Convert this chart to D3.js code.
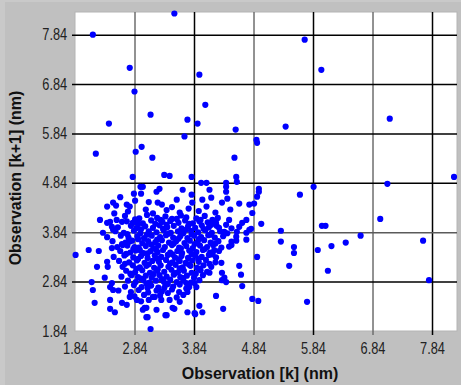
<!DOCTYPE html>
<html><head><meta charset="utf-8">
<script src="https://cdn.jsdelivr.net/npm/d3@7"></script>
<style>body{margin:0;background:#c0c0c0}svg{display:block}</style>
</head><body>
<svg id="c" width="461" height="385"></svg>
<script>
const tickValues = [1.84, 2.84, 3.84, 4.84, 5.84, 6.84, 7.84];
const xTitle = "Observation [k] (nm)";
const yTitle = "Observation [k+1] (nm)";

// sparse / outlying observations [x_k, x_k+1]
const outliers = [
[2.14,7.84],[3.51,8.27],[2.76,7.17],[2.84,6.69],[3.93,7.03],[4.03,6.42],[3.11,6.22],[3.73,6.12],[3.90,6.04],[2.41,6.04],
[3.68,5.78],[2.19,5.43],[2.86,5.47],[2.96,5.57],[3.14,5.35],[5.70,7.74],[5.98,7.13],[7.13,6.14],[4.54,5.92],[5.38,5.98],
[4.90,5.65],[4.89,5.71],[4.52,5.35],[8.21,4.96],[7.09,4.82],[5.85,4.76],[4.93,4.72],[4.93,4.66],[5.62,4.60],
[2.81,4.96],[3.34,5.00],[3.43,4.98],[3.80,4.96],[2.94,4.76],[3.26,4.72],[3.96,4.84],[4.05,4.84],[4.38,4.84],[4.55,4.96],
[4.56,4.86],[4.38,4.76],[4.38,4.66],[2.83,4.62],[2.98,4.76],[3.21,4.66],[3.80,4.60],[3.55,4.50],[3.98,4.50],[3.81,4.44],
[3.23,4.44],[3.30,4.40],[3.38,4.29],[4.13,4.54],[4.10,4.70],[4.90,4.56],[4.60,4.42],[4.77,4.40],[4.85,4.42],[4.31,4.44],
[4.82,4.23],[4.97,4.01],[4.72,4.09],[4.65,4.03],[4.60,3.95],[4.56,3.85],[4.77,3.89],[4.72,3.83],[4.43,4.09],[4.38,3.99],
[4.35,3.85],[4.21,4.03],[4.15,4.09],[4.26,3.93],[4.55,3.75],[4.47,3.65],[4.43,3.55],[4.72,3.69],[4.18,3.48],[4.55,3.67],
[4.47,3.58],[5.30,3.87],[5.99,3.97],[6.05,3.97],[6.97,4.11],[4.80,3.91],[6.64,3.77],[5.30,3.65],[6.39,3.63],[6.15,3.56],
[7.69,3.67],[5.52,3.54],[5.52,3.42],[5.92,3.48],[4.90,3.34],[4.60,3.16],[4.63,2.98],[5.44,3.16],[6.09,3.06],[4.65,2.75],
[7.79,2.87],[4.82,2.49],[4.92,2.45],[5.74,2.43],[4.30,3.22],[4.10,3.02],[4.31,3.02],[4.35,2.92],[4.38,2.83],[4.31,2.87],
[4.21,2.55],[4.33,2.29],[4.15,3.42],
[1.85,3.38],[2.07,3.48],[2.24,3.46],[2.26,4.09],[2.38,4.36],[2.48,4.44],[2.53,4.38],[2.71,4.40],[2.73,4.26],[2.76,4.36],
[2.43,4.05],[2.46,3.95],[2.48,3.89],[2.54,4.09],[2.63,4.05],[2.81,4.03],[2.89,4.05],[2.31,3.83],[2.46,3.52],[2.64,3.58],
[2.76,3.65],[2.84,3.54],[2.93,3.48],[2.38,3.24],[2.39,3.14],[2.21,3.14],[2.34,2.92],[2.12,2.83],[2.14,2.67],[2.43,2.73],
[2.48,2.67],[2.46,2.81],[2.17,2.41],[2.43,2.47],[2.43,2.29],[2.51,2.22],[2.63,2.41],[2.71,2.37],[2.76,2.53],[2.98,2.27],
[2.88,2.47],[3.01,2.31],[3.04,2.12],[3.11,1.88],[3.36,2.16],[3.48,2.31],[3.73,2.22],[3.85,2.20],[3.93,2.35],
[3.34,2.71],[3.40,2.61],[3.43,2.47],[3.18,2.53],[3.29,2.47],[3.06,2.71],[3.71,2.81],[3.73,2.63],[3.85,2.81],[3.88,2.73],
[3.04,2.31],[3.06,2.12],[3.21,2.27],[3.38,2.16],[3.51,2.29],[3.86,2.18],[3.98,2.22],[2.38,4.03],
[2.60,4.55],[2.85,4.48],[3.03,4.30],[3.15,4.22],[3.47,4.35],[3.60,4.24],[3.75,4.32],[3.92,4.27],[4.05,4.36],[4.20,4.24],
[4.45,4.30],[2.95,4.62],[3.65,4.70],[2.50,4.22],[4.40,4.52],[3.08,4.45]
];

// dense central cloud [x_k, x_k+1]
const cluster = [
[2.68,4.17],[2.92,4.12],[3.05,4.19],[3.22,4.13],[3.36,4.16],[3.47,4.11],[3.62,4.18],[3.71,4.14],[3.88,4.12],[4.02,4.17],[4.24,4.13],
[2.71,4.06],[2.98,4.02],[3.12,4.08],[3.19,4.01],[3.31,4.05],[3.44,4.07],[3.58,4.03],[3.69,4.08],[3.82,4.02],[3.93,4.06],[4.07,4.04],[4.18,4.07],
[2.56,3.94],[2.78,3.97],[2.87,3.92],[3.02,3.96],[3.15,3.93],[3.26,3.98],[3.39,3.94],[3.50,3.97],[3.63,3.92],[3.74,3.96],[3.86,3.93],[3.97,3.98],[4.09,3.94],[4.22,3.97],[4.47,3.92],
[2.52,3.86],[2.66,3.83],[2.83,3.87],[2.94,3.82],[3.08,3.86],[3.21,3.84],[3.33,3.88],[3.45,3.83],[3.57,3.86],[3.66,3.82],[3.79,3.87],[3.91,3.84],[4.03,3.88],[4.14,3.83],[4.28,3.86],[4.40,3.82],
[2.38,3.74],[2.61,3.77],[2.74,3.73],[2.89,3.76],[3.00,3.72],[3.13,3.77],[3.27,3.74],[3.37,3.78],[3.49,3.73],[3.61,3.76],[3.73,3.72],[3.84,3.77],[3.96,3.74],[4.08,3.78],[4.19,3.73],[4.33,3.76],
[2.47,3.66],[2.69,3.63],[2.80,3.67],[2.97,3.62],[3.07,3.66],[3.19,3.64],[3.30,3.68],[3.42,3.63],[3.54,3.66],[3.68,3.62],[3.77,3.67],[3.90,3.64],[4.01,3.68],[4.12,3.63],[4.25,3.66],
[2.55,3.54],[2.72,3.57],[2.91,3.53],[3.03,3.56],[3.16,3.52],[3.24,3.57],[3.35,3.54],[3.47,3.58],[3.59,3.53],[3.71,3.56],[3.82,3.52],[3.94,3.57],[4.06,3.54],[4.16,3.58],[4.30,3.53],
[2.60,3.46],[2.77,3.43],[2.86,3.47],[2.99,3.42],[3.11,3.46],[3.23,3.44],[3.32,3.48],[3.44,3.43],[3.56,3.46],[3.64,3.42],[3.76,3.47],[3.88,3.44],[3.99,3.48],[4.11,3.43],[4.26,3.46],
[2.49,3.34],[2.67,3.37],[2.82,3.33],[2.95,3.36],[3.06,3.32],[3.18,3.37],[3.29,3.34],[3.40,3.38],[3.52,3.33],[3.63,3.36],[3.74,3.32],[3.86,3.37],[3.97,3.34],[4.09,3.38],[4.21,3.33],
[2.58,3.26],[2.75,3.23],[2.88,3.27],[3.01,3.22],[3.14,3.26],[3.25,3.24],[3.37,3.28],[3.48,3.23],[3.60,3.26],[3.70,3.22],[3.81,3.27],[3.92,3.24],[4.04,3.28],[4.20,3.23],
[2.64,3.14],[2.81,3.17],[2.93,3.13],[3.04,3.16],[3.17,3.12],[3.28,3.17],[3.41,3.14],[3.53,3.18],[3.65,3.13],[3.78,3.16],[3.89,3.12],[4.00,3.17],[4.13,3.14],
[2.70,3.06],[2.85,3.03],[2.97,3.07],[3.10,3.02],[3.22,3.06],[3.34,3.04],[3.46,3.08],[3.57,3.03],[3.67,3.06],[3.80,3.02],[3.95,3.07],[4.06,3.04],
[2.62,2.94],[2.79,2.97],[2.90,2.93],[3.03,2.96],[3.13,2.92],[3.26,2.97],[3.38,2.94],[3.50,2.98],[3.61,2.93],[3.72,2.96],[3.84,2.92],[3.99,2.97],
[2.73,2.86],[2.86,2.83],[2.99,2.87],[3.09,2.82],[3.20,2.86],[3.33,2.84],[3.44,2.88],[3.55,2.83],[3.66,2.86],[3.79,2.82],[3.93,2.87],
[2.68,2.74],[2.83,2.77],[2.96,2.73],[3.12,2.76],[3.24,2.72],[3.36,2.77],[3.49,2.74],[3.60,2.78],[3.76,2.73],
[2.57,2.66],[2.78,2.63],[2.91,2.67],[3.07,2.62],[3.21,2.66],[3.30,2.64],[3.47,2.68],[3.59,2.63],
[2.84,2.54],[3.00,2.57],[3.15,2.53],[3.27,2.56],[3.55,2.52],[3.66,2.57],
[2.95,2.44],[3.08,2.47],[3.60,2.43]
];

// extra observations filling the gaps inside the cloud
const clusterFill = [
[2.85,4.10],[3.28,4.09],[3.55,4.11],[3.95,4.09],
[2.90,4.00],[3.38,3.99],[3.76,4.01],[4.13,3.99],
[2.95,3.90],[3.32,3.91],[3.70,3.89],[4.00,3.91],
[2.72,3.80],[3.05,3.79],[3.41,3.81],[3.80,3.80],[4.12,3.79],
[2.90,3.70],[3.22,3.69],[3.58,3.71],[3.92,3.70],
[2.63,3.60],[3.12,3.59],[3.50,3.61],[3.85,3.60],[4.20,3.61],
[2.82,3.50],[3.20,3.49],[3.62,3.51],[4.02,3.50],
[2.70,3.40],[3.06,3.41],[3.48,3.39],[3.80,3.40],[4.15,3.39],
[2.90,3.30],[3.22,3.31],[3.58,3.29],[3.91,3.30],
[2.68,3.20],[3.08,3.19],[3.44,3.21],[3.75,3.19],[4.10,3.20],
[2.87,3.10],[3.23,3.09],[3.60,3.11],[3.94,3.10],
[2.77,3.00],[3.16,2.99],[3.52,3.01],[3.87,3.00],
[2.95,2.90],[3.30,2.89],[3.66,2.91],
[3.04,2.80],[3.40,2.79],[3.71,2.70]
];

const points = outliers.concat(cluster, clusterFill);

const W = 461, H = 385;
const L = 75, R = 457, T = 12, B = 331;
const svg = d3.select("#c");

svg.append("rect").attr("width", W).attr("height", H).attr("fill", "#c0c0c0");
svg.append("rect").attr("width", 5).attr("height", H).attr("fill", "#c9c9c9");
svg.append("rect").attr("width", W).attr("height", 2).attr("fill", "#c9c9c9");

const x = d3.scaleLinear().domain([1.84, 8.26]).range([L, R]);
const y = d3.scaleLinear().domain([1.84, 8.30]).range([B, T]);

svg.append("rect").attr("x", L).attr("y", T).attr("width", R - L).attr("height", B - T)
  .attr("fill", "#fff").attr("stroke", "#b4b4b4").attr("stroke-width", 1);

const font = "'Liberation Sans', Arial, Helvetica, sans-serif";
const darkX = new Set([2.84, 4.84, 6.84]);
const darkY = new Set([3.84]);

// x axis with grid
const gx = svg.append("g").attr("transform", `translate(0,${B + 4})`)
  .call(d3.axisBottom(x).tickValues(tickValues).tickFormat(d3.format(".2f"))
    .tickSize(-(B - T + 4)).tickSizeOuter(0).tickPadding(8));
gx.select(".domain").remove();
gx.selectAll(".tick line")
  .attr("stroke", d => darkX.has(d) ? "#6e6e6e" : "#000")
  .attr("stroke-width", 1.5);
gx.selectAll(".tick").filter(d => d === 1.84).select("line").remove();
gx.selectAll(".tick text")
  .attr("font-family", font).attr("font-size", 16).attr("fill", "#222")
  .attr("transform", "scale(0.8,1)");

// y axis with grid
const gy = svg.append("g").attr("transform", `translate(${L - 3},0)`)
  .call(d3.axisLeft(y).tickValues(tickValues).tickFormat(d3.format(".2f"))
    .tickSize(-(R - L + 3)).tickSizeOuter(0).tickPadding(6));
gy.select(".domain").remove();
gy.selectAll(".tick line")
  .attr("stroke", d => darkY.has(d) ? "#5a5a5a" : "#000")
  .attr("stroke-width", 1.5);
gy.selectAll(".tick").filter(d => d === 1.84).select("line").remove();
gy.selectAll(".tick text")
  .attr("font-family", font).attr("font-size", 16).attr("fill", "#222")
  .attr("transform", "scale(0.8,1)");

// points
svg.append("g").selectAll("circle").data(points).join("circle")
  .attr("cx", d => x(d[0])).attr("cy", d => y(d[1]))
  .attr("r", 3.1).attr("fill", "#0000ff");

// titles
svg.append("text").attr("x", 260).attr("y", 379).attr("text-anchor", "middle")
  .attr("font-family", font).attr("font-size", 16).attr("font-weight", "bold").attr("fill", "#111")
  .text(xTitle);
svg.append("text").attr("transform", "translate(21,178) rotate(-90)").attr("text-anchor", "middle")
  .attr("font-family", font).attr("font-size", 16).attr("font-weight", "bold").attr("fill", "#111")
  .text(yTitle);
</script>
</body></html>
